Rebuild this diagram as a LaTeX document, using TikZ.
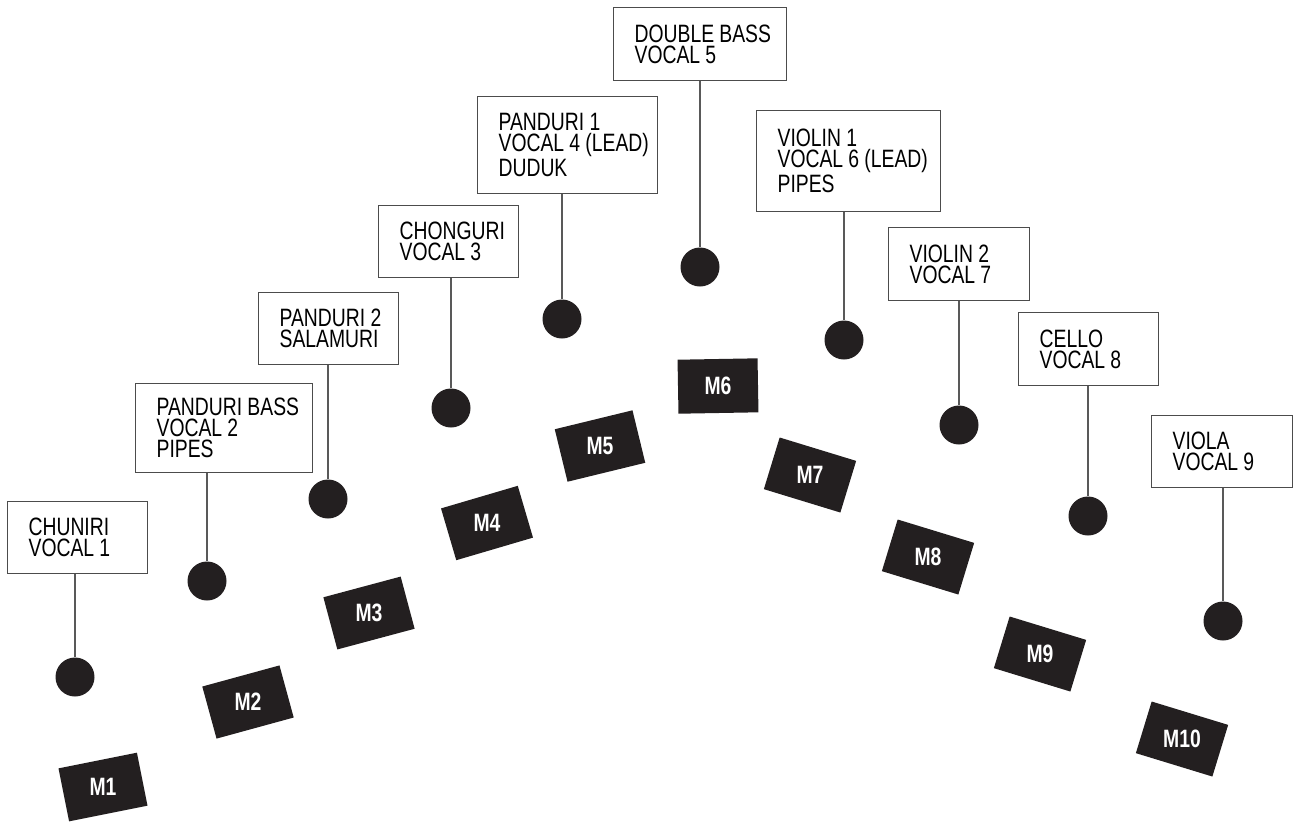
\documentclass[tikz,border=0pt]{standalone}
\usepackage{fontspec}
\newfontfamily\condsans[FakeStretch=0.77]{Liberation Sans}
\usepackage{tikz}
\usetikzlibrary{positioning, calc}
\definecolor{ink}{HTML}{231F20}
\newcommand{\px}{0.02cm}
\tikzset{
	instr/.style={draw=black!70, line width=0.6pt, fill=white, anchor=north west, align=left,
		inner xsep=0pt, inner ysep=2pt, execute at begin node={\leftskip=12pt\spaceskip=3pt plus 1pt minus 1pt},
		font=\condsans\fontsize{14.3}{12}\selectfont}
}
\tikzset{
	bx/.style 2 args={minimum width=#1*\px, minimum height=#2*\px, text width=#1*\px}
}
\tikzset{
	player/.style={circle, fill=ink, minimum size=39*\px, inner sep=0pt}
}
\tikzset{
	mic/.style={fill=ink, minimum width=80*\px, minimum height=54*\px, inner sep=0pt}
}
\tikzset{
	miclabel/.style={text=white, inner sep=0pt, font=\condsans\bfseries\fontsize{14.3}{12}\selectfont}
}
\tikzset{
	stem/.style={draw=black!65, line width=0.6pt}
}

\begin{document}
\begin{tikzpicture}[x=0.02cm, y=-0.02cm]
      \useasboundingbox (0,0) rectangle (1293,823);
      % name boxes
      \node[instr, bx={140}{72}] (chuniri) at (7,501) {CHUNIRI\\VOCAL 1};
      \node[instr, bx={177}{89}] (pbass) at (135,383) {PANDURI BASS\\VOCAL 2\\PIPES};
      \node[instr, bx={140}{72}] (pand2) at (258,292) {PANDURI 2\\SALAMURI};
      \node[instr, bx={140}{72}] (chonguri) at (378,205) {CHONGURI\\VOCAL 3};
      \node[instr, bx={180}{97}] (pand1) at (477,96) {PANDURI 1\\VOCAL 4 (LEAD)\\DUDUK};
      \node[instr, bx={173}{73}] (dbass) at (613,7) {DOUBLE BASS\\VOCAL 5};
      \node[instr, bx={184}{101}] (violin1) at (756,110) {VIOLIN 1\\VOCAL 6 (LEAD)\\PIPES};
      \node[instr, bx={141}{73}] (violin2) at (888,227) {VIOLIN 2\\VOCAL 7};
      \node[instr, bx={140}{73}] (cello) at (1018,312) {CELLO\\VOCAL 8};
      \node[instr, bx={141}{72}] (viola) at (1151,415) {VIOLA\\VOCAL 9};
      % player positions
      \node[player] (pos1) at (75,677) {};
      \node[player] (pos2) at (207,581) {};
      \node[player] (pos3) at (328,499) {};
      \node[player] (pos4) at (451,408) {};
      \node[player] (pos5) at (562,319) {};
      \node[player] (pos6) at (700,267) {};
      \node[player] (pos7) at (844,340) {};
      \node[player] (pos8) at (959,425) {};
      \node[player] (pos9) at (1088,516) {};
      \node[player] (pos10) at (1223,621) {};
      \draw[stem] (pos1) -- (pos1 |- chuniri.south);
      \draw[stem] (pos2) -- (pos2 |- pbass.south);
      \draw[stem] (pos3) -- (pos3 |- pand2.south);
      \draw[stem] (pos4) -- (pos4 |- chonguri.south);
      \draw[stem] (pos5) -- (pos5 |- pand1.south);
      \draw[stem] (pos6) -- (pos6 |- dbass.south);
      \draw[stem] (pos7) -- (pos7 |- violin1.south);
      \draw[stem] (pos8) -- (pos8 |- violin2.south);
      \draw[stem] (pos9) -- (pos9 |- cello.south);
      \draw[stem] (pos10) -- (pos10 |- viola.south);
      % microphones, label kept upright
      \node[mic, rotate=11.3] (mic1) at (103,787) {};
      \node[mic, rotate=15.3] (mic2) at (248,702) {};
      \node[mic, rotate=15] (mic3) at (369,613) {};
      \node[mic, rotate=16.4] (mic4) at (487,523) {};
      \node[mic, rotate=13.7] (mic5) at (600,446) {};
      \node[mic, rotate=1] (mic6) at (718,386) {};
      \node[mic, rotate=-17] (mic7) at (810,475) {};
      \node[mic, rotate=-17] (mic8) at (928,557) {};
      \node[mic, rotate=-17] (mic9) at (1040,654) {};
      \node[mic, rotate=-17] (mic10) at (1182,739) {};
      \node[miclabel] (lab1) at (mic1) {M1};
      \node[miclabel] (lab2) at (mic2) {M2};
      \node[miclabel] (lab3) at (mic3) {M3};
      \node[miclabel] (lab4) at (mic4) {M4};
      \node[miclabel] (lab5) at (mic5) {M5};
      \node[miclabel] (lab6) at (mic6) {M6};
      \node[miclabel] (lab7) at (mic7) {M7};
      \node[miclabel] (lab8) at (mic8) {M8};
      \node[miclabel] (lab9) at (mic9) {M9};
      \node[miclabel] (lab10) at (mic10) {M10};
\end{tikzpicture}
\end{document}
